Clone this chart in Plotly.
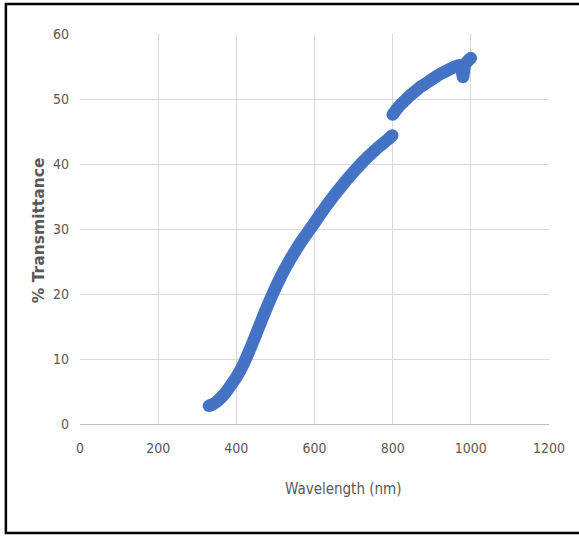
import plotly.graph_objects as go

# Transmittance spectrum, measured in two detector ranges
wavelength_uv_vis = [330, 340, 350, 360, 370, 380, 390, 400, 410, 420, 430, 440, 450,
                     460, 470, 480, 490, 500, 510, 520, 530, 540, 550, 560, 570, 580,
                     590, 600, 610, 620, 630, 640, 650, 660, 670, 680, 690, 700, 710,
                     720, 730, 740, 750, 760, 770, 780, 790, 799]
transmittance_uv_vis = [2.8, 3.05, 3.45, 4.0, 4.65, 5.45, 6.3, 7.2, 8.25, 9.45, 10.8, 12.25, 13.75,
                        15.25, 16.75, 18.2, 19.6, 20.95, 22.2, 23.4, 24.5, 25.55, 26.55, 27.5, 28.4, 29.25,
                        30.1, 30.95, 31.85, 32.7, 33.55, 34.35, 35.15, 35.9, 36.65, 37.4, 38.1, 38.8, 39.45,
                        40.1, 40.7, 41.3, 41.85, 42.4, 42.9, 43.4, 43.9, 44.4]

wavelength_nir = [800, 810, 820, 830, 840, 850, 860, 870, 880, 890, 900, 910, 920, 930,
                  940, 950, 960, 970, 975, 980, 985, 990, 1000]
transmittance_nir = [47.6, 48.4, 49.1, 49.7, 50.3, 50.8, 51.3, 51.8, 52.2, 52.6, 53.0, 53.4,
                     53.8, 54.1, 54.4, 54.7, 55.0, 55.2, 55.0, 53.4, 55.3, 55.7, 56.3]

x_ticks = [0, 200, 400, 600, 800, 1000, 1200]
y_ticks = [0, 10, 20, 30, 40, 50, 60]

BLUE = "#4472C4"
GRID = "#d9d9d9"
NARROW = "DejaVu Sans Condensed, Liberation Sans Narrow, Liberation Sans, sans-serif"
TICK_FONT = dict(family=NARROW, size=14, color="#595959")
BAND = 12.5

fig = go.Figure()
for xs, ys in [(wavelength_uv_vis, transmittance_uv_vis), (wavelength_nir, transmittance_nir)]:
    # thick smooth band; round dots only at the two ends of each segment
    sizes = [BAND if i in (0, len(xs) - 1) else 0 for i in range(len(xs))]
    fig.add_trace(go.Scatter(
        x=xs, y=ys, mode="lines+markers",
        line=dict(color=BLUE, width=BAND, shape="spline", smoothing=0.6),
        marker=dict(color=BLUE, size=sizes, opacity=1, line=dict(width=0)),
        showlegend=False, hoverinfo="x+y",
    ))

fig.update_xaxes(
    range=[0, 1200], tickvals=x_ticks, ticktext=[str(v) for v in x_ticks],
    showgrid=True, gridcolor=GRID, gridwidth=1, zeroline=False,
    showline=True, linecolor="#bfbfbf", linewidth=1, mirror=False,
    tickfont=TICK_FONT, ticks="", ticklabelstandoff=11,
)
fig.update_yaxes(
    range=[0, 60], tickvals=y_ticks, ticktext=[str(v) for v in y_ticks],
    showgrid=True, gridcolor=GRID, gridwidth=1, zeroline=False,
    showline=False, tickfont=TICK_FONT, ticks="", ticklabelstandoff=10,
)

fig.add_annotation(
    text="Wavelength (nm)", xref="paper", yref="paper", x=0.561, y=-0.167,
    showarrow=False, xanchor="center", yanchor="middle",
    font=dict(family=NARROW, size=15, color="#595959"),
)
fig.add_annotation(
    text="<b>% Transmittance</b>", xref="paper", yref="paper", x=-0.0874, y=0.497,
    showarrow=False, xanchor="center", yanchor="middle", textangle=-90,
    font=dict(family="DejaVu Sans, sans-serif", size=15.5, color="#595959"),
)

# Outer frame around the chart
fig.add_shape(
    type="rect", xref="paper", yref="paper",
    x0=-0.158, x1=1.15, y0=-0.2795, y1=1.077,
    line=dict(color="black", width=2.5), fillcolor="rgba(0,0,0,0)", layer="above",
)

fig.update_layout(
    width=579, height=536,
    margin=dict(l=80, r=30, t=34, b=112),
    paper_bgcolor="white", plot_bgcolor="white",
)

fig.write_html("out.html")
